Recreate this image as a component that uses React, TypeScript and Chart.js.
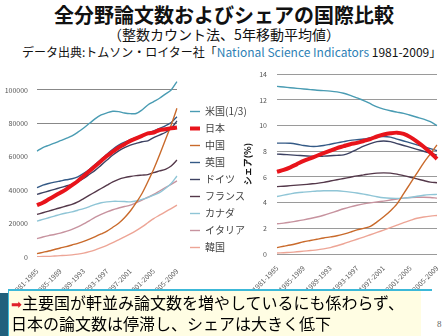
import React, { useEffect, useRef } from "react";
import { Chart, registerables } from "chart.js";
Chart.register(...registerables);

const periods = [
  "1981-1985", "1982-1986", "1983-1987", "1984-1988", "1985-1989",
  "1986-1990", "1987-1991", "1988-1992", "1989-1993", "1990-1994",
  "1991-1995", "1992-1996", "1993-1997", "1994-1998", "1995-1999",
  "1996-2000", "1997-2001", "1998-2002", "1999-2003", "2000-2004",
  "2001-2005", "2002-2006", "2003-2007", "2004-2008", "2005-2009",
];

const seriesNames = ["米国(1/3)", "日本", "中国", "英国", "ドイツ", "フランス", "カナダ", "イタリア", "韓国"];
const seriesColors = ["#4a9cb3", "#e8141b", "#c96a2b", "#345a86", "#3d4262", "#54384a", "#8fc5d6", "#c7939f", "#eda596"];

const paperTicks = [0, 20000, 40000, 60000, 80000, 100000];
const paperGridShown = [80000, 100000];

// 論文数 (papers)
const paperUS = [63400, 65500, 66800, 68100, 69600, 71000, 72500, 74700, 77200, 80000, 82800, 85000, 86300, 87200, 87000, 86200, 85800, 85900, 88000, 91000, 93000, 95000, 97500, 100000, 105000];
const paperJP = [31000, 32500, 34500, 36500, 38500, 40500, 43000, 45500, 48500, 51500, 54500, 57500, 60500, 63000, 65500, 67500, 69500, 71000, 72500, 74000, 74500, 76000, 76500, 77000, 77500];
const paperCN = [2000, 2800, 3600, 4500, 5400, 6200, 7200, 8200, 9300, 10700, 12200, 13800, 15500, 17800, 20200, 23500, 27500, 32500, 38000, 45000, 52500, 61000, 70000, 79000, 89000];
const paperUK = [41500, 43000, 44000, 44800, 45500, 46200, 46800, 48000, 50000, 52500, 55500, 58500, 61500, 64500, 67000, 68800, 70200, 71500, 72500, 74000, 75500, 77000, 78500, 80500, 84000];
const paperDE = [37500, 38500, 39500, 40500, 41500, 42500, 43500, 45000, 47000, 49500, 52000, 55000, 58000, 61000, 63500, 65500, 67000, 68000, 69000, 69500, 71500, 73000, 74500, 77000, 81500];
const paperFR = [25500, 26500, 27500, 28500, 29500, 30500, 31500, 33000, 35000, 37000, 39000, 41000, 43000, 45000, 46500, 47500, 48200, 48700, 49000, 49300, 50500, 51500, 52500, 54500, 58000];
const paperCA = [21500, 22500, 23500, 24500, 25500, 26300, 27000, 28000, 29000, 30200, 31500, 32500, 33000, 33300, 33300, 33200, 33000, 33500, 34500, 35500, 37000, 38500, 41000, 44000, 48500];
const paperIT = [11000, 12000, 12800, 13500, 14300, 15300, 16500, 18000, 19800, 21800, 23800, 25500, 27000, 28300, 29300, 30200, 31000, 32500, 34000, 35800, 37500, 39500, 41500, 43500, 45500];
const paperKR = [200, 300, 400, 600, 800, 1000, 1300, 1700, 2300, 3200, 4300, 5600, 7000, 8600, 10300, 12000, 13800, 15800, 18000, 20500, 23000, 25000, 27000, 29000, 31000];

// シェア (%)
const shareUS = [13.05, 13.0, 12.95, 12.9, 12.85, 12.8, 12.75, 12.72, 12.68, 12.62, 12.52, 12.35, 12.15, 11.95, 11.7, 11.45, 11.28, 11.15, 11.05, 10.95, 10.8, 10.65, 10.5, 10.3, 10.0];
const shareJP = [6.4, 6.55, 6.75, 7.0, 7.25, 7.45, 7.65, 7.85, 8.05, 8.25, 8.4, 8.55, 8.65, 8.8, 8.95, 9.15, 9.3, 9.4, 9.45, 9.35, 9.1, 8.75, 8.35, 7.9, 7.4];
const shareCN = [0.5, 0.6, 0.7, 0.82, 0.95, 1.05, 1.15, 1.25, 1.33, 1.42, 1.55, 1.7, 1.88, 2.0, 2.15, 2.5, 2.9, 3.35, 3.9, 4.7, 5.5, 6.3, 7.1, 7.8, 8.5];
const shareUK = [8.63, 8.63, 8.62, 8.55, 8.45, 8.38, 8.38, 8.45, 8.55, 8.65, 8.75, 8.85, 8.9, 8.95, 9.05, 9.12, 9.15, 9.1, 8.95, 8.8, 8.65, 8.5, 8.35, 8.2, 8.05];
const shareDE = [7.78, 7.75, 7.72, 7.68, 7.65, 7.62, 7.6, 7.62, 7.65, 7.68, 7.72, 7.9, 8.15, 8.4, 8.6, 8.75, 8.8, 8.75, 8.6, 8.45, 8.3, 8.15, 8.0, 7.85, 7.7];
const shareFR = [5.25, 5.28, 5.32, 5.36, 5.4, 5.45, 5.5, 5.58, 5.68, 5.78, 5.88, 5.98, 6.08, 6.16, 6.24, 6.3, 6.32, 6.3, 6.22, 6.1, 5.98, 5.85, 5.72, 5.6, 5.55];
const shareCA = [4.48, 4.58, 4.68, 4.77, 4.82, 4.86, 4.9, 4.92, 4.93, 4.92, 4.88, 4.82, 4.75, 4.66, 4.56, 4.46, 4.38, 4.34, 4.33, 4.35, 4.4, 4.5, 4.58, 4.62, 4.64];
const shareIT = [2.35, 2.4, 2.48, 2.57, 2.66, 2.76, 2.88, 3.02, 3.18, 3.35, 3.52, 3.67, 3.8, 3.9, 3.98, 4.05, 4.12, 4.2, 4.28, 4.35, 4.4, 4.42, 4.42, 4.4, 4.35];
const shareKR = [0.08, 0.1, 0.13, 0.17, 0.22, 0.27, 0.32, 0.4, 0.5, 0.64, 0.8, 0.98, 1.15, 1.32, 1.5, 1.68, 1.86, 2.05, 2.25, 2.45, 2.62, 2.78, 2.88, 2.95, 3.0];

const paperSeries = [paperUS, paperJP, paperCN, paperUK, paperDE, paperFR, paperCA, paperIT, paperKR];
const shareSeries = [shareUS, shareJP, shareCN, shareUK, shareDE, shareFR, shareCA, shareIT, shareKR];

const FONT = "'Noto Sans CJK JP', 'Noto Sans', sans-serif";

function makeDatasets(series: number[][]) {
  return series.map((data, i) => ({
    label: seriesNames[i],
    data,
    borderColor: seriesColors[i],
    backgroundColor: seriesColors[i],
    borderWidth: i === 1 ? 4 : 1.4,
    pointRadius: 0,
    tension: 0.3,
    fill: false,
  }));
}

function xScale(height: number) {
  return {
    type: "category" as const,
    offset: false,
    grid: { display: false },
    border: { display: false },
    ticks: {
      autoSkip: false,
      minRotation: 45,
      maxRotation: 45,
      padding: 2,
      color: "#555",
      font: { size: 7, family: FONT },
      callback: (_v: any, i: number) => (i % 4 === 0 ? periods[i] : ""),
    },
    afterFit: (s: any) => { s.height = height; },
  };
}

// moves the library legend to a fixed x position (leaves a gap after the plot)
const legendShift = {
  id: "legendShift",
  afterLayout(chart: any) {
    const lg = chart.legend;
    if (!lg) return;
    lg.left = 183;
    lg.right = 262;
    lg.width = lg.right - lg.left;
  },
};

function PaperChart() {
  const ref = useRef<HTMLCanvasElement>(null);
  useEffect(() => {
    const chart = new Chart(ref.current!, {
      type: "line",
      data: { labels: periods, datasets: makeDatasets(paperSeries) },
      options: {
        animation: false,
        responsive: false,
        layout: { padding: { top: 7, left: 0, right: 28, bottom: 0 } },
        plugins: {
          tooltip: { enabled: false },
          legend: {
            position: "right",
            labels: {
              usePointStyle: true,
              pointStyle: "line",
              pointStyleWidth: 10,
              padding: 7,
              color: "#444",
              font: { size: 10, family: FONT },
            },
          },
        },
        scales: {
          x: xScale(35),
          y: {
            min: 0,
            max: 110000,
            border: { display: false },
            grid: {
              drawTicks: false,
              color: (c: any) => (c.tick && paperGridShown.includes(c.tick.value) ? "#888" : "rgba(0,0,0,0)"),
            },
            ticks: {
              padding: 9,
              color: "#555",
              font: { size: 7, family: FONT },
              callback: (v: any) => String(v),
            },
            afterBuildTicks: (s: any) => { s.ticks = paperTicks.map((v) => ({ value: v })); },
            afterFit: (s: any) => { s.width = 37; },
          },
        },
      } as any,
      plugins: [legendShift],
    });
    return () => chart.destroy();
  }, []);
  return <canvas ref={ref} width={264} height={232} style={{ position: "absolute", left: 0, top: 60, zIndex: 2 }} />;
}

function ShareChart() {
  const ref = useRef<HTMLCanvasElement>(null);
  useEffect(() => {
    const chart = new Chart(ref.current!, {
      type: "line",
      data: { labels: periods, datasets: makeDatasets(shareSeries) },
      options: {
        animation: false,
        responsive: false,
        layout: { padding: { top: 13, left: 0, right: 11, bottom: 0 } },
        plugins: { tooltip: { enabled: false }, legend: { display: false } },
        scales: {
          x: xScale(38),
          y: {
            min: 0,
            max: 14,
            border: { display: false },
            grid: { drawTicks: false, color: "#9a9a9a" },
            title: { display: true, text: "シェア(%)", color: "#111", font: { size: 9, weight: "bold", family: FONT }, padding: { top: 2, bottom: 2 } },
            ticks: { stepSize: 2, padding: 10, color: "#555", font: { size: 7, family: FONT } },
            afterFit: (s: any) => { s.width = 37; },
          },
        },
      } as any,
    });
    return () => chart.destroy();
  }, []);
  return <canvas ref={ref} width={208} height={232} style={{ position: "absolute", left: 240, top: 60, zIndex: 1 }} />;
}

export default function App() {
  return (
    <div style={{ position: "absolute", left: 0, top: 0, width: 448, height: 336, background: "#fff", overflow: "hidden", fontFamily: FONT }}>
      <div style={{ position: "absolute", left: 0, top: 2, width: 448, textAlign: "center", fontSize: 20, fontWeight: "bold", lineHeight: "26px", color: "#111" }}>
        全分野論文数およびシェアの国際比較
      </div>
      <div style={{ position: "absolute", left: 0, top: 24, width: 448, textAlign: "center", fontSize: 14, lineHeight: "20px", color: "#111" }}>
        （整数カウント法、5年移動平均値）
      </div>
      <div style={{ position: "absolute", left: 22, top: 44, width: 430, fontSize: 12, lineHeight: "16px", color: "#111", whiteSpace: "nowrap" }}>
        データ出典:トムソン・ロイター社「<span style={{ color: "#2e7fb5" }}>National Science Indicators</span> 1981-2009」
      </div>
      <ShareChart />
      <PaperChart />
      <div style={{ position: "absolute", left: 0, top: 293, width: 9, height: 43, background: "#21607c" }} />
      <div style={{ position: "absolute", left: 8, top: 289, width: 424, height: 2, background: "#3cb8d8", zIndex: 3 }} />
      <div style={{ position: "absolute", left: 8, top: 291, width: 412, height: 45, background: "#fffde3", borderLeft: "1px solid #3cb8d8", zIndex: 3 }} />
      <div style={{ position: "absolute", left: 11, top: 293, width: 420, fontSize: 16, lineHeight: "19px", color: "#000", whiteSpace: "nowrap", zIndex: 4 }}>
        <span style={{ color: "#e0202a", fontFamily: "'DejaVu Sans'", fontSize: 13 }}>➡</span>主要国が軒並み論文数を増やしているにも係わらず、<br />
        日本の論文数は停滞し、シェアは大きく低下
      </div>
      <div style={{ position: "absolute", left: 437, top: 319, fontSize: 9, color: "#666", fontFamily: "serif" }}>8</div>
    </div>
  );
}
